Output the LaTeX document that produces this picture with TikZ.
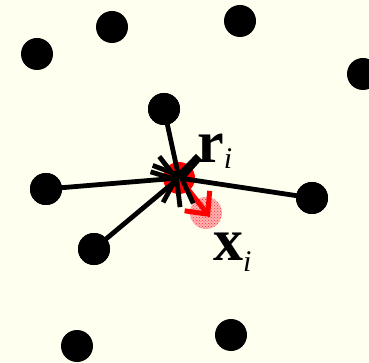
\documentclass[tikz,border=0pt]{standalone}
\usepackage{fontspec}
\setmainfont{Liberation Serif}
\usetikzlibrary{arrows.meta,patterns}
\definecolor{bgivory}{RGB}{255,255,240}
\tikzset{
  atom/.style={circle,fill=black,minimum size=32pt,inner sep=0pt},
  link/.style={line width=4.8pt,-{Straight Barb[length=15pt,width=46pt,line width=4.8pt]}},
  displace/.style={red,line width=5pt,-{Straight Barb[length=17pt,width=32pt,line width=5pt]}},
  lab/.style={anchor=base west,inner sep=0pt}
}
\begin{document}
\begin{tikzpicture}[x=1pt,y=-1pt]
\fill[bgivory] (0,0) rectangle (369,363);
\useasboundingbox (0,0) rectangle (369,363);
\clip (0,0) rectangle (369,363);
% target position x_i
\node[circle,minimum size=32pt,inner sep=0pt,fill=red!30] (xi) at (206,213) {};
\fill[pattern=crosshatch dots,pattern color=red!80] (xi.center) circle (16pt);
% current position r_i
\node[circle,minimum size=32pt,inner sep=0pt,fill=red] (ri) at (179,178) {};
\coordinate (tip) at (210,217);
% other atoms
\node[atom] (a1) at (37,54) {};
\node[atom] (a2) at (112,27) {};
\node[atom] (a3) at (240,21) {};
\node[atom] (a4) at (363,74) {};
\node[atom] (a5) at (164,109) {};
\node[atom] (a6) at (46,189) {};
\node[atom] (a7) at (312,198) {};
\node[atom] (a8) at (94,249) {};
\node[atom] (a9) at (77,346) {};
\node[atom] (a10) at (231,335) {};
% displacement arrow
\draw[displace] (ri.center) -- (tip);
% force arrows
\draw[link] (a5.center) -- (ri.center);
\draw[link] (a6.center) -- (ri.center);
\draw[link] (a7.center) -- (ri.center);
\draw[link] (a8.center) -- (ri.center);
\node[atom] at (a5) {};
\node[atom] at (a6) {};
\node[atom] at (a7) {};
\node[atom] at (a8) {};
% labels
\node[lab] (lr) at (197,163) {\fontsize{60}{60}\selectfont\textbf{r}\raisebox{-6pt}{\fontsize{30}{30}\selectfont\textit{i}}};
\node[lab] (lx) at (213,260) {\fontsize{60}{60}\selectfont\textbf{x}\raisebox{-11pt}{\fontsize{30}{30}\selectfont\textit{i}}};
\end{tikzpicture}
\end{document}
